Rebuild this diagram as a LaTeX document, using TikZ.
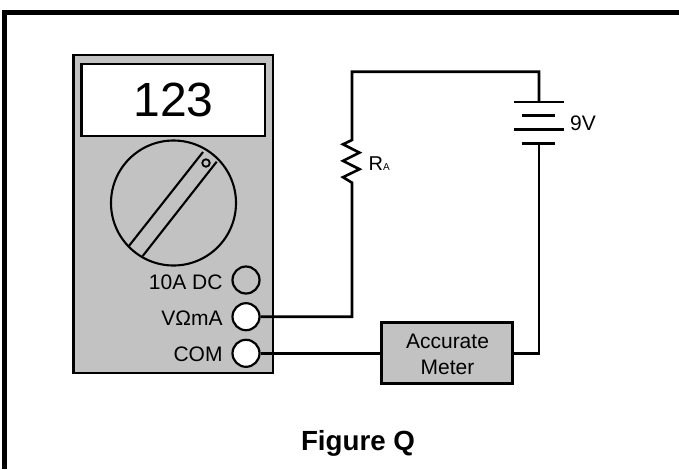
\documentclass[tikz,border=0pt]{standalone}
\usepackage{fontspec}
\setmainfont{Liberation Sans}
\newcommand{\pxfont}[1]{\fontsize{#1}{#1}\selectfont}
\definecolor{panelgray}{gray}{0.76}
\tikzset{
 x=1pt,y=-1pt,
 wire/.style={line width=2.6pt,line join=miter},
 panel/.style={draw,line width=2.6pt,fill=panelgray,inner sep=0pt},
 jack/.style={circle,draw,line width=2.2pt,minimum size=27pt,inner sep=0pt},
 dialline/.style={line width=2.1pt},
 lbl/.style={inner sep=0pt,anchor=base east,font=\pxfont{21}},
 txt/.style={inner sep=0pt,anchor=base,font=\pxfont{21}},
}
\begin{document}
\begin{tikzpicture}
\useasboundingbox (0,0) rectangle (679,469);
\fill[white] (0,0) rectangle (679,469);
\fill[black] (2,10) rectangle (679,15);
\fill[black] (2,10) rectangle (7,469);
% meter
\node[panel,minimum width=199.5pt,minimum height=318pt] (body) at (173.25,214) {};
\node[draw,line width=2.6pt,fill=white,minimum width=183.5pt,minimum height=72pt,inner sep=0pt] (display) at (173.25,100) {};
\node[inner sep=0pt,anchor=base,font=\pxfont{48}] (num) at (173.5,116) {123};
\node[circle,draw,line width=2.1pt,minimum size=125pt,inner sep=0pt] (dial) at (173.5,203) {};
\draw[dialline] (203,152) -- (128.5,246.5);
\draw[dialline] (216.7,161.7) -- (142.7,256);
\node[circle,draw,line width=1.8pt,minimum size=7.5pt,inner sep=0pt] (dot) at (206,163) {};
% jacks
\node[jack] (j10) at (246,280) {};
\node[jack,fill=white] (jv) at (246,316.7) {};
\node[jack,fill=white] (jc) at (246,353.3) {};
\node[lbl] (l10) at (222.7,289) {10A DC};
\node[lbl] (lv) at (222.7,325) {V\symbol{"03A9}mA};
\node[lbl] (lc) at (222.7,361.7) {COM};
% accurate meter
\node[panel,minimum width=131pt,minimum height=60.5pt] (acc) at (447.2,353) {};
\node[txt] (acc1) at (447.5,348.3) {Accurate};
\node[txt] (acc2) at (447.5,374) {Meter};
% circuit
\coordinate (c1) at (352,71.7);
\coordinate (c2) at (539,71.7);
\coordinate (r1) at (352,140);
\coordinate (r2) at (352,182.7);
\coordinate (b1) at (539,102);
\coordinate (b4) at (539,143.3);
\coordinate (c3) at (539,353.3);
\coordinate (c4) at (352,316.7);
\draw[wire] (jv.east) -- (c4) -- (r2)
 -- ++(-9,-5.5) -- ++(16.5,-8) -- ++(-16.5,-8.3) -- ++(16.5,-8.3) -- ++(-16.5,-8.3) -- (r1)
 -- (c1) -- (c2) -- (b1);
\draw[wire] (b4) -- (c3) -- (acc.east |- c3);
\draw[wire] (jc.east) -- (acc.west |- jc.east);
\draw[wire] (514,102) -- (564,102);
\draw[wire] (522,115.7) -- (555,115.7);
\draw[wire] (514,129.3) -- (564,129.3);
\draw[wire] (522,143.3) -- (555,143.3);
% labels
\node[inner sep=0pt,anchor=base west,font=\pxfont{21}] (v9) at (570,130) {9V};
\node[inner sep=0pt,anchor=base west,font=\pxfont{20}] (ra) at (368.5,170) {R\pxfont{10}A};
\node[inner sep=0pt,anchor=base,font=\bfseries\pxfont{27.7}] (title) at (358,450) {Figure Q};
\end{tikzpicture}
\end{document}
